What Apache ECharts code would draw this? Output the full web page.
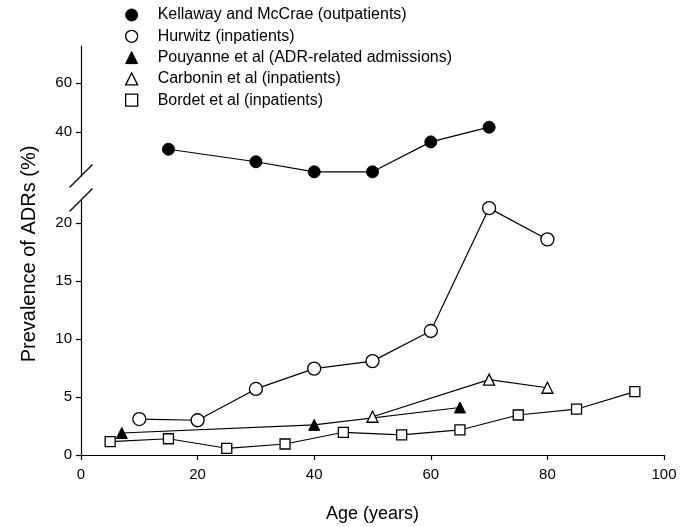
<!DOCTYPE html>
<html>
<head>
<meta charset="utf-8">
<script src="https://cdn.jsdelivr.net/npm/echarts@6/dist/echarts.min.js"></script>
<style>
html,body{margin:0;padding:0;background:#fff;}
#c{width:691px;height:527px;}
</style>
</head>
<body>
<div id="c"></div>
<script>
// ---- data ----
const seriesNames = [
  'Kellaway and McCrae (outpatients)',
  'Hurwitz (inpatients)',
  'Pouyanne et al (ADR-related admissions)',
  'Carbonin et al (inpatients)',
  'Bordet et al (inpatients)'
];
const kellawayAge = [15, 30, 40, 50, 60, 70];
const kellawayVal = [32.9, 27.8, 23.7, 23.7, 35.9, 41.9];
const hurwitzAge = [10, 20, 30, 40, 50, 60, 70, 80];
const hurwitzVal = [3.1, 3.0, 5.7, 7.45, 8.1, 10.7, 21.3, 18.6];
const pouyanneAge = [7, 40, 65];
const pouyanneVal = [1.9, 2.6, 4.1];
const carboninAge = [50, 70, 80];
const carboninVal = [3.3, 6.5, 5.8];
const bordetAge = [5, 15, 25, 35, 45, 55, 65, 75, 85, 95];
const bordetVal = [1.15, 1.4, 0.58, 0.95, 1.96, 1.73, 2.16, 3.45, 3.95, 5.47];
const upperTicks = [40, 60];
const lowerTicks = [0, 5, 10, 15, 20];
const xTicks = [0, 20, 40, 60, 80, 100];

const pairs = (xs, ys) => xs.map((x, i) => [x, ys[i]]);
const FONT = "'Liberation Sans', Arial, Helvetica, sans-serif";
const BLACK = '#000';

const chart = echarts.init(document.getElementById('c'), null, {renderer: 'canvas'});

const axisLineStyle = {show: true, lineStyle: {color: BLACK, width: 1.2}};
const tickStyle = {show: true, inside: false, length: 5, lineStyle: {color: BLACK, width: 1.2}};
const labelStyle = {color: BLACK, fontSize: 15, fontFamily: FONT};

const filled = {color: BLACK, borderColor: BLACK, borderWidth: 1};
const open = {color: '#fff', borderColor: BLACK, borderWidth: 1.3};

function lineSeries(name, data, symbol, size, style, idx) {
  return {
    name, type: 'line', data, symbol, symbolSize: size,
    xAxisIndex: idx, yAxisIndex: idx,
    itemStyle: style,
    lineStyle: {color: BLACK, width: 1.2},
    clip: false, animation: false, z: 3,
    emphasis: {disabled: true}
  };
}

const option = {
  backgroundColor: '#fff',
  animation: false,
  textStyle: {fontFamily: FONT},
  grid: [
    {left: 81, right: 27, top: 200, bottom: 72, containLabel: false},
    {left: 81, right: 27, top: 46, bottom: 351, containLabel: false}
  ],
  legend: {
    orient: 'vertical', left: 120, top: 2,
    itemWidth: 12, itemHeight: 12, itemGap: 5.3,
    textStyle: {color: BLACK, fontSize: 16, fontFamily: FONT, padding: [0, 0, 0, 15]},
    selectedMode: false,
    data: [
      {name: seriesNames[0], icon: 'circle', itemStyle: filled},
      {name: seriesNames[1], icon: 'circle', itemStyle: open},
      {name: seriesNames[2], icon: 'triangle', itemStyle: filled},
      {name: seriesNames[3], icon: 'triangle', itemStyle: open},
      {name: seriesNames[4], icon: 'rect', itemStyle: open}
    ]
  },
  xAxis: [
    {
      type: 'value', gridIndex: 0, min: xTicks[0], max: xTicks[xTicks.length - 1], interval: 20,
      axisLine: axisLineStyle, axisTick: tickStyle,
      axisLabel: Object.assign({margin: 12}, labelStyle),
      splitLine: {show: false},
      name: 'Age (years)', nameLocation: 'middle', nameGap: 50,
      nameTextStyle: {color: BLACK, fontSize: 18, fontFamily: FONT}
    },
    {
      type: 'value', gridIndex: 1, min: xTicks[0], max: xTicks[xTicks.length - 1],
      show: false
    }
  ],
  yAxis: [
    {
      type: 'value', gridIndex: 0, min: 0, max: 22, interval: 5,
      axisLine: axisLineStyle, axisTick: Object.assign({customValues: lowerTicks}, tickStyle),
      axisLabel: Object.assign({customValues: lowerTicks, margin: 9}, labelStyle),
      splitLine: {show: false}
    },
    {
      type: 'value', gridIndex: 1, min: 22, max: 75,
      axisLine: axisLineStyle, axisTick: Object.assign({customValues: upperTicks}, tickStyle),
      axisLabel: Object.assign({customValues: upperTicks, margin: 9}, labelStyle),
      splitLine: {show: false}
    }
  ],
  series: [
    lineSeries(seriesNames[0], pairs(kellawayAge, kellawayVal), 'circle', 12, filled, 1),
    lineSeries(seriesNames[1], pairs(hurwitzAge, hurwitzVal), 'circle', 13, open, 0),
    lineSeries(seriesNames[2], pairs(pouyanneAge, pouyanneVal), 'triangle', 11, filled, 0),
    lineSeries(seriesNames[3], pairs(carboninAge, carboninVal), 'triangle', 11, open, 0),
    lineSeries(seriesNames[4], pairs(bordetAge, bordetVal), 'rect', 10, open, 0)
  ]
};

chart.setOption(option);

// axis break slashes, positioned from the axes' own scales
const upperEnd = chart.convertToPixel({xAxisIndex: 1, yAxisIndex: 1}, [0, 22]);
const lowerEnd = chart.convertToPixel({xAxisIndex: 0, yAxisIndex: 0}, [0, 22]);
const d = 11.5;
const slash = (p) => ({
  type: 'line',
  shape: {x1: p[0] - d, y1: p[1] + d, x2: p[0] + d, y2: p[1] - d},
  style: {stroke: BLACK, lineWidth: 1.2},
  z: 10
});
chart.setOption({
  graphic: [
    slash(upperEnd),
    slash(lowerEnd),
    {
      type: 'text', x: 29, y: 254, rotation: Math.PI / 2,
      style: {
        text: 'Prevalence of ADRs (%)', fill: BLACK, fontSize: 20, fontFamily: FONT,
        align: 'center', verticalAlign: 'middle'
      }
    }
  ]
});
</script>
</body>
</html>
